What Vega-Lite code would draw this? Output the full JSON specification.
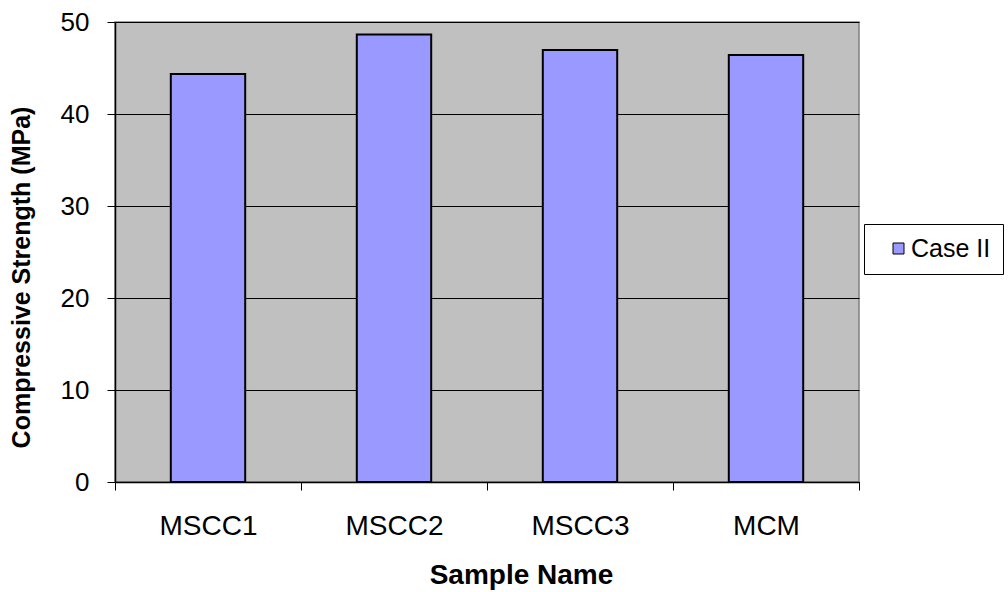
{
  "$schema": "https://vega.github.io/schema/vega-lite/v6.json",
  "width": 744,
  "height": 460,
  "autosize": "none",
  "padding": {"left": 115, "top": 22, "right": 149, "bottom": 110},
  "background": "white",
  "config": {
    "font": "Liberation Sans",
    "view": {"fill": "#C0C0C0", "stroke": "#808080", "strokeWidth": 1.5}
  },
  "data": {
    "values": [
      {"sample": "MSCC1", "strength": 44.35},
      {"sample": "MSCC2", "strength": 48.65},
      {"sample": "MSCC3", "strength": 46.96},
      {"sample": "MCM", "strength": 46.41}
    ]
  },
  "mark": {"type": "bar", "stroke": "black", "strokeWidth": 2, "width": {"band": 0.4}},
  "encoding": {
    "x": {
      "field": "sample",
      "type": "nominal",
      "sort": null,
      "scale": {"paddingInner": 0, "paddingOuter": 0},
      "axis": {
        "title": "Sample Name",
        "titleFontSize": 28,
        "titleFontWeight": "bold",
        "titleColor": "black",
        "titlePadding": 21,
        "titleX": 406,
        "labelAngle": 0,
        "labelFontSize": 28,
        "labelColor": "black",
        "labelPadding": 22,
        "tickBand": "extent",
        "tickSize": 8,
        "tickColor": "black",
        "domainColor": "black",
        "domainWidth": 1.5
      }
    },
    "y": {
      "field": "strength",
      "type": "quantitative",
      "scale": {"domain": [0, 50]},
      "axis": {
        "title": "Compressive Strength (MPa)",
        "titleFontSize": 25,
        "titleFontWeight": "bold",
        "titleColor": "black",
        "titlePadding": 26,
        "titleY": 255,
        "values": [0, 10, 20, 30, 40, 50],
        "labelFontSize": 26,
        "labelColor": "black",
        "labelPadding": 18,
        "tickSize": 8,
        "tickColor": "black",
        "domainColor": "black",
        "domainWidth": 1.5,
        "grid": true,
        "gridColor": "black",
        "gridWidth": 1
      }
    },
    "color": {
      "datum": "Case II",
      "scale": {"range": ["#9999FF"]},
      "legend": {
        "title": null,
        "orient": "none",
        "legendX": 749,
        "legendY": 202,
        "symbolType": "square",
        "symbolSize": 121,
        "symbolOffset": 10,
        "symbolStrokeColor": "black",
        "symbolStrokeWidth": 1,
        "labelFontSize": 25,
        "labelColor": "black",
        "labelOffset": 0,
        "strokeColor": "black",
        "fillColor": "white",
        "padding": 12
      }
    }
  }
}
